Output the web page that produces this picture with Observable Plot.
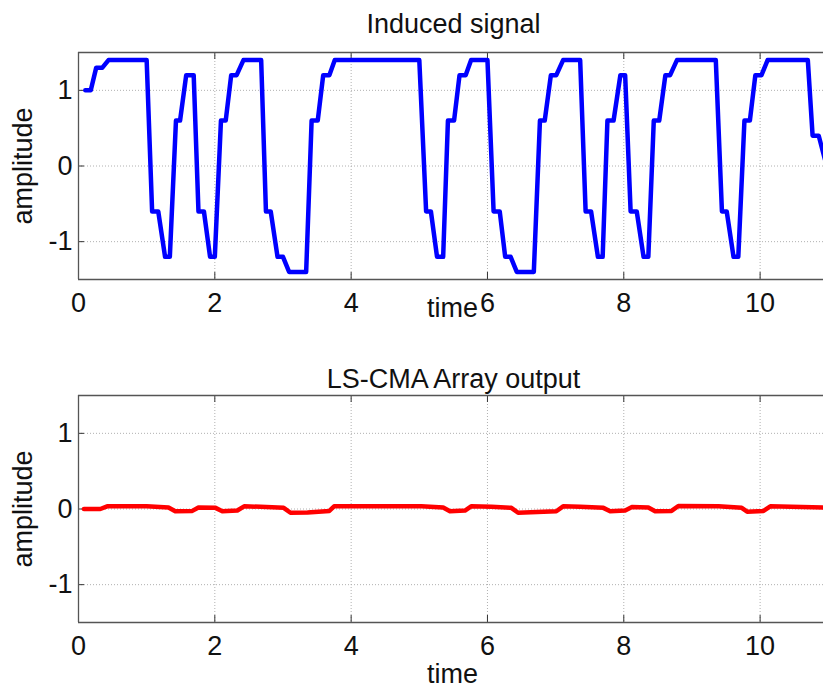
<!DOCTYPE html>
<html><head><meta charset="utf-8">
<script src="https://cdn.jsdelivr.net/npm/d3@7"></script>
<script src="https://cdn.jsdelivr.net/npm/@observablehq/plot@0.6"></script>
<style>html,body{margin:0;padding:0;background:#fff;overflow:hidden} svg{display:block}</style>
</head><body><div id="chart"></div>
<script>
// Induced signal (blue)
const inducedTime = [0.10,0.18,0.26,0.35,0.44,1.00,1.08,1.17,1.27,1.34,1.43,1.49,1.58,1.69,1.76,1.84,1.93,2.00,2.09,2.16,2.24,2.32,2.42,2.68,2.75,2.82,2.92,3.00,3.09,3.34,3.42,3.51,3.59,3.68,3.76,5.00,5.10,5.17,5.26,5.35,5.42,5.51,5.59,5.68,5.76,6.00,6.09,6.18,6.26,6.34,6.43,6.68,6.77,6.84,6.93,7.01,7.11,7.36,7.44,7.52,7.62,7.69,7.76,7.85,7.95,8.02,8.10,8.19,8.29,8.36,8.44,8.52,8.61,8.68,8.78,9.35,9.44,9.51,9.61,9.68,9.77,9.85,9.93,10.02,10.11,10.70,10.77,10.86,10.95];
const inducedAmp  = [1.0,1.0,1.3,1.3,1.4,1.4,-0.6,-0.6,-1.2,-1.2,0.6,0.6,1.2,1.2,-0.6,-0.6,-1.2,-1.2,0.6,0.6,1.2,1.2,1.4,1.4,-0.6,-0.6,-1.2,-1.2,-1.4,-1.4,0.6,0.6,1.2,1.2,1.4,1.4,-0.6,-0.6,-1.2,-1.2,0.6,0.6,1.2,1.2,1.4,1.4,-0.6,-0.6,-1.2,-1.2,-1.4,-1.4,0.6,0.6,1.2,1.2,1.4,1.4,-0.6,-0.6,-1.2,-1.2,0.6,0.6,1.2,1.2,-0.6,-0.6,-1.2,-1.2,0.6,0.6,1.2,1.2,1.4,1.4,-0.6,-0.6,-1.2,-1.2,0.6,0.6,1.2,1.2,1.4,1.4,0.4,0.4,0.09];
// LS-CMA array output (red)
const outputTime = [0.08,0.32,0.42,1.00,1.32,1.42,1.67,1.76,2.01,2.11,2.33,2.43,2.67,3.01,3.11,3.36,3.68,3.75,5.03,5.35,5.45,5.67,5.76,6.06,6.35,6.45,7.01,7.11,7.36,7.70,7.80,8.02,8.12,8.36,8.46,8.70,8.80,9.39,9.73,9.81,10.05,10.15,10.93];
const outputAmp  = [0.0,0.0,0.035,0.035,0.02,-0.03,-0.025,0.02,0.015,-0.03,-0.02,0.035,0.03,0.015,-0.05,-0.045,-0.025,0.035,0.035,0.02,-0.03,-0.02,0.035,0.03,0.015,-0.05,-0.03,0.035,0.03,0.015,-0.03,-0.02,0.025,0.02,-0.03,-0.025,0.04,0.035,0.015,-0.035,-0.025,0.035,0.02];

const titles = ["Induced signal", "LS-CMA Array output"];
const xLabel = "time";
const yLabel = "amplitude";
const xTicks = [0,2,4,6,8,10];
const yTicks = [-1,0,1];
const xDomain = [0, 10.93];
const yDomain = [-1.5, 1.5];

const W = 823, ML = 78, FS = 27;

function panel({title, titleDy, time, amp, color, height, marginTop, marginBottom, timeDy}) {
  const data = time.map((t, i) => ({t, a: amp[i]}));
  const frameH = height - marginTop - marginBottom;
  const frameW = W - ML;
  return Plot.plot({
    width: W, height, marginLeft: ML, marginRight: 0, marginTop, marginBottom,
    style: {fontFamily: "'Liberation Sans', Arial, sans-serif", fontSize: FS + "px", color: "#111", background: "#fff"},
    x: {domain: xDomain, ticks: xTicks, tickSize: 0, tickPadding: 13, tickFormat: d => String(d), label: null},
    y: {domain: yDomain, ticks: yTicks, tickSize: 0, tickPadding: 6, tickFormat: d => String(d), label: null},
    marks: [
      Plot.ruleX(xTicks, {x: d => d, stroke: "#b0b0b0", strokeDasharray: "1,2"}),
      Plot.ruleY(yTicks, {y: d => d, stroke: "#b0b0b0", strokeDasharray: "1,2"}),
      Plot.tickX(xTicks, {x: d => d, stroke: "#333", insetTop: frameH - 7}),
      Plot.tickX(xTicks, {x: d => d, stroke: "#333", insetBottom: frameH - 7}),
      Plot.tickY(yTicks, {y: d => d, stroke: "#333", insetRight: frameW - 6}),
      Plot.ruleY(yDomain, {y: d => d, stroke: "#555", strokeWidth: 1.3}),
      Plot.ruleX([xDomain[0]], {x: d => d, stroke: "#555", strokeWidth: 1.3}),
      Plot.line(data, {x: "t", y: "a", stroke: color, strokeWidth: 4.5, strokeLinejoin: "round", strokeLinecap: "round"}),
      Plot.text([title], {frameAnchor: "top", textAnchor: "middle", dy: titleDy, dx: 2.5, lineAnchor: "bottom", fontSize: FS, fill: "#111"}),
      Plot.text([yLabel], {frameAnchor: "left", textAnchor: "middle", rotate: -90, dx: -46.5, lineAnchor: "bottom", fontSize: FS, fill: "#111"}),
      Plot.text([xLabel], {frameAnchor: "bottom", textAnchor: "middle", dy: timeDy, dx: 1.5, lineAnchor: "bottom", fontSize: FS, fill: "#111"})
    ]
  });
}

const p1 = panel({title: titles[0], titleDy: -20, time: inducedTime, amp: inducedAmp, color: "#0000ff",
  height: 345, marginTop: 52, marginBottom: 66, timeDy: 37});
const p2 = panel({title: titles[1], titleDy: -8, time: outputTime, amp: outputAmp, color: "#ff0000",
  height: 344, marginTop: 50, marginBottom: 67, timeDy: 60});
document.getElementById("chart").append(p1, p2);
</script>
</body></html>
